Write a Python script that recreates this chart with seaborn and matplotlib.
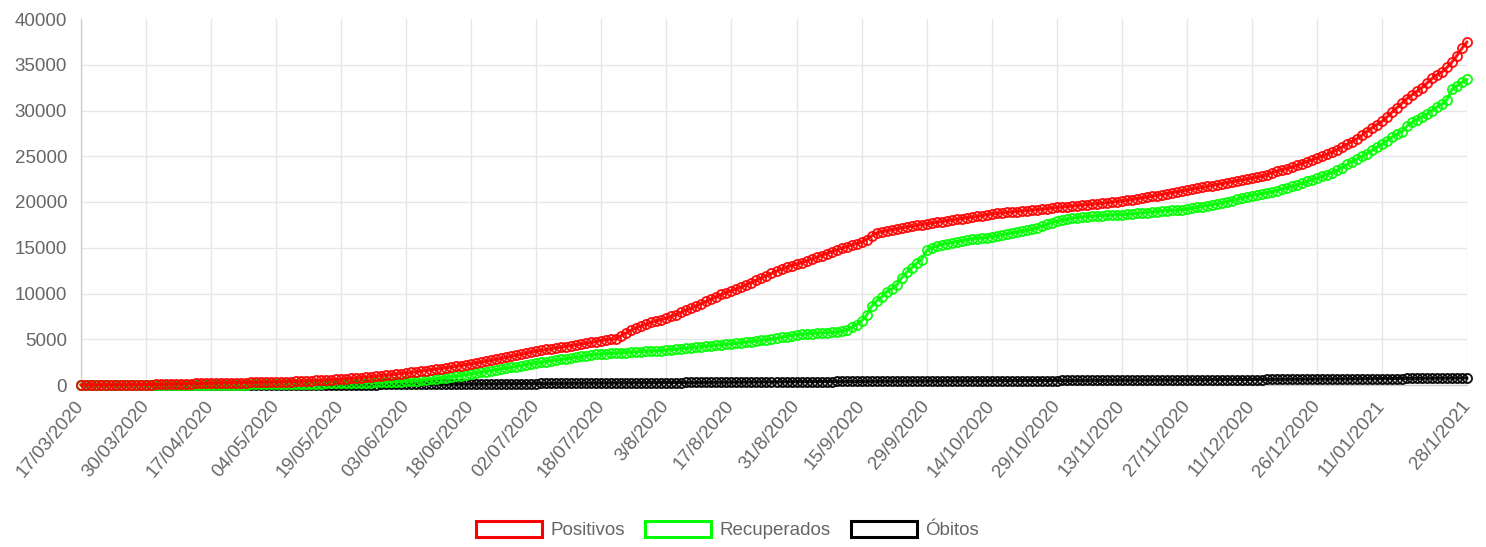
import numpy as np
import matplotlib
matplotlib.use('Agg')
import matplotlib.pyplot as plt
from matplotlib.patches import Rectangle
import seaborn as sns

# tick labels shown on the category axis (every 13th report + the last one)
tick_labels = ['17/03/2020', '30/03/2020', '17/04/2020', '04/05/2020', '19/05/2020',
               '03/06/2020', '18/06/2020', '02/07/2020', '18/07/2020', '3/8/2020',
               '17/8/2020', '31/8/2020', '15/9/2020', '29/9/2020', '14/10/2020',
               '29/10/2020', '13/11/2020', '27/11/2020', '11/12/2020', '26/12/2020',
               '11/01/2021', '28/1/2021']

# one value per report, 13 per row (one row per labelled tick)
positivos = [
    1, 2, 2, 4, 6, 8, 10, 13, 16, 20, 24, 29, 34,
    40, 48, 56, 66, 78, 90, 104, 118, 132, 148, 165, 180, 195,
    210, 220, 230, 238, 246, 255, 263, 272, 281, 292, 303, 312, 321,
    330, 345, 362, 380, 400, 420, 443, 468, 495, 525, 560, 590, 620,
    650, 690, 730, 770, 810, 860, 910, 960, 1010, 1060, 1120, 1180, 1240,
    1300, 1370, 1440, 1510, 1580, 1650, 1730, 1800, 1880, 1960, 2050, 2130, 2210,
    2300, 2400, 2500, 2600, 2700, 2800, 2910, 3020, 3130, 3240, 3360, 3480, 3590,
    3700, 3790, 3880, 3970, 4050, 4130, 4200, 4280, 4380, 4480, 4570, 4650, 4750,
    4850, 4950, 5000, 5050, 5400, 5700, 6000, 6250, 6450, 6650, 6850, 7000, 7150,
    7300, 7500, 7700, 7950, 8200, 8400, 8650, 8900, 9150, 9400, 9650, 9900, 10100,
    10300, 10500, 10700, 10950, 11200, 11450, 11700, 11950, 12200, 12450, 12650, 12850, 13050,
    13200, 13350, 13550, 13750, 13950, 14150, 14350, 14550, 14750, 14950, 15100, 15300, 15450,
    15600, 15900, 16300, 16600, 16750, 16850, 16950, 17050, 17150, 17250, 17350, 17450, 17520,
    17600, 17690, 17780, 17860, 17940, 18020, 18100, 18180, 18260, 18340, 18420, 18500, 18600,
    18700, 18760, 18810, 18860, 18910, 18960, 19010, 19060, 19110, 19160, 19210, 19260, 19330,
    19400, 19450, 19500, 19550, 19600, 19650, 19700, 19750, 19800, 19850, 19910, 19980, 20040,
    20100, 20180, 20260, 20350, 20440, 20530, 20620, 20710, 20800, 20900, 21000, 21100, 21200,
    21300, 21400, 21500, 21600, 21700, 21800, 21900, 22000, 22100, 22200, 22300, 22400, 22500,
    22600, 22700, 22800, 22950, 23200, 23350, 23500, 23650, 23800, 24000, 24200, 24400, 24600,
    24800, 25000, 25200, 25450, 25700, 26000, 26300, 26600, 26900, 27300, 27700, 28100, 28450,
    28800, 29300, 29800, 30300, 30800, 31300, 31700, 32100, 32500, 33000, 33500, 33900, 34200,
    34700, 35300, 36000, 36800, 37500,
]

recuperados = [
    0, 0, 0, 0, 0, 1, 1, 1, 2, 2, 2, 3, 4,
    5, 6, 7, 8, 9, 10, 12, 14, 16, 18, 21, 24, 27,
    30, 33, 36, 39, 42, 45, 49, 53, 57, 61, 66, 71, 75,
    80, 88, 96, 104, 112, 120, 130, 140, 150, 160, 170, 180, 190,
    200, 210, 220, 230, 240, 250, 265, 280, 295, 310, 330, 350, 375,
    400, 440, 480, 520, 570, 620, 680, 740, 800, 870, 950, 1030, 1110,
    1200, 1290, 1380, 1470, 1560, 1650, 1740, 1830, 1920, 2020, 2120, 2220, 2310,
    2400, 2480, 2560, 2640, 2720, 2800, 2880, 2960, 3040, 3120, 3200, 3270, 3340,
    3400, 3430, 3460, 3490, 3520, 3550, 3580, 3610, 3640, 3670, 3700, 3730, 3770,
    3800, 3850, 3900, 3950, 4000, 4060, 4120, 4180, 4240, 4300, 4350, 4400, 4450,
    4500, 4560, 4620, 4680, 4740, 4810, 4880, 4950, 5020, 5100, 5200, 5300, 5400,
    5500, 5540, 5580, 5620, 5660, 5700, 5730, 5760, 5790, 5850, 6000, 6300, 6600,
    7000, 7600, 8600, 9200, 9600, 10200, 10500, 10900, 11700, 12300, 12800, 13300, 13700,
    14700, 15000, 15200, 15350, 15450, 15550, 15650, 15750, 15850, 15950, 16000, 16050, 16100,
    16200, 16300, 16400, 16500, 16600, 16700, 16800, 16900, 17000, 17150, 17350, 17550, 17750,
    17900, 18000, 18100, 18200, 18300, 18350, 18400, 18440, 18480, 18520, 18550, 18580, 18600,
    18600, 18650, 18700, 18750, 18800, 18850, 18900, 18950, 19000, 19050, 19080, 19120, 19160,
    19200, 19300, 19400, 19500, 19600, 19700, 19800, 19900, 20000, 20150, 20300, 20450, 20580,
    20700, 20800, 20900, 21000, 21100, 21250, 21400, 21550, 21700, 21850, 22050, 22250, 22450,
    22600, 22800, 23000, 23200, 23450, 23750, 24100, 24400, 24700, 25000, 25300, 25650, 26000,
    26300, 26700, 27100, 27400, 27700, 28300, 28700, 29000, 29300, 29600, 30000, 30400, 30700,
    31200, 32300, 32700, 33100, 33400,
]

obitos = [
    0, 0, 0, 0, 0, 0, 0, 0, 1, 1, 1, 1, 1,
    1, 1, 2, 2, 2, 3, 3, 3, 4, 4, 5, 6, 7,
    8, 9, 10, 11, 12, 13, 14, 15, 16, 17, 18, 19, 19,
    20, 21, 23, 24, 26, 27, 29, 30, 32, 33, 35, 37, 38,
    40, 42, 44, 46, 48, 50, 52, 54, 56, 59, 62, 65, 67,
    70, 73, 76, 79, 82, 85, 88, 91, 94, 97, 100, 104, 107,
    110, 114, 118, 122, 126, 130, 134, 138, 142, 146, 150, 153, 157,
    160, 164, 168, 172, 176, 180, 184, 188, 192, 196, 200, 204, 207,
    210, 214, 218, 222, 226, 230, 234, 238, 242, 246, 250, 254, 257,
    260, 264, 268, 272, 276, 280, 284, 288, 292, 296, 300, 304, 307,
    310, 314, 318, 322, 326, 330, 334, 338, 342, 346, 350, 354, 357,
    360, 363, 366, 369, 372, 375, 378, 381, 384, 387, 390, 394, 397,
    400, 402, 405, 407, 410, 412, 415, 417, 420, 422, 425, 427, 428,
    430, 432, 435, 437, 440, 442, 445, 447, 450, 452, 455, 457, 458,
    460, 462, 465, 467, 470, 472, 475, 477, 480, 482, 485, 487, 488,
    490, 492, 495, 497, 500, 502, 505, 507, 510, 512, 515, 517, 518,
    520, 522, 525, 527, 530, 532, 535, 537, 540, 542, 545, 547, 548,
    550, 553, 556, 559, 562, 565, 568, 571, 574, 577, 580, 584, 587,
    590, 594, 598, 602, 606, 610, 614, 618, 622, 626, 630, 634, 637,
    640, 644, 648, 652, 656, 660, 664, 668, 672, 676, 680, 684, 687,
    690, 695, 700, 705, 710, 715, 720, 725, 730, 735, 740, 745, 750,
    755, 759, 763, 767, 770,
]

series_names = ['Positivos', 'Recuperados', 'Óbitos']
series_colors = ['#ff0000', '#00ff00', '#000000']

sns.set_style('white')
plt.rcParams['font.family'] = ['Liberation Sans', 'DejaVu Sans']

fig = plt.figure(figsize=(14.86, 5.47), dpi=100)
ax = fig.add_axes([81 / 1486, 1 - 385 / 547, (1467 - 81) / 1486, (385 - 19) / 547])

n = len(positivos)
idx = np.arange(n)

# draw the last dataset first so Positivos sits on top (like chart.js)
all_series = list(zip(series_names, [positivos, recuperados, obitos], series_colors))
for name, vals, color in reversed(all_series):
    sns.lineplot(x=idx, y=vals, ax=ax, color=color, lw=2.2, alpha=0.9,
                 marker='o', ms=6.5, mfc='none', mec=color, mew=1.4,
                 clip_on=False, zorder=3)

# chart.js autoskip: every 13th label, last one always shown
tick_pos = [i for i in range(0, n, 13) if i + 13 < n] + [n - 1]

ax.set_xlim(0, n - 1)
ax.set_ylim(0, 40000)
ax.set_yticks(range(0, 40001, 5000))
ax.set_xticks(tick_pos)
ax.set_xticklabels(tick_labels, rotation=50, ha='right', va='center',
                   rotation_mode='anchor')

ax.grid(True, color='#e6e6e6', lw=1)
ax.get_ygridlines()[-1].set_visible(False)
for side in ['top', 'right']:
    ax.spines[side].set_visible(False)
for side in ['left', 'bottom']:
    ax.spines[side].set_color('#cfcfcf')
    ax.spines[side].set_linewidth(1)
ax.tick_params(axis='both', length=7, color='#e6e6e6', labelcolor='#666666',
               labelsize=13.5, pad=3)
ax.tick_params(axis='x', pad=6)

handles = [Rectangle((0, 0), 1, 1, facecolor='white', edgecolor=c, lw=2.2)
           for c in series_colors]
fig.legend(handles, series_names, loc='center', bbox_to_anchor=(0.4895, 0.031),
           ncol=3, frameon=False, handlelength=3.5, handleheight=0.95,
           handletextpad=0.45, columnspacing=1.1, fontsize=13.5,
           labelcolor='#666666')

fig.savefig('out.png', dpi=100)
